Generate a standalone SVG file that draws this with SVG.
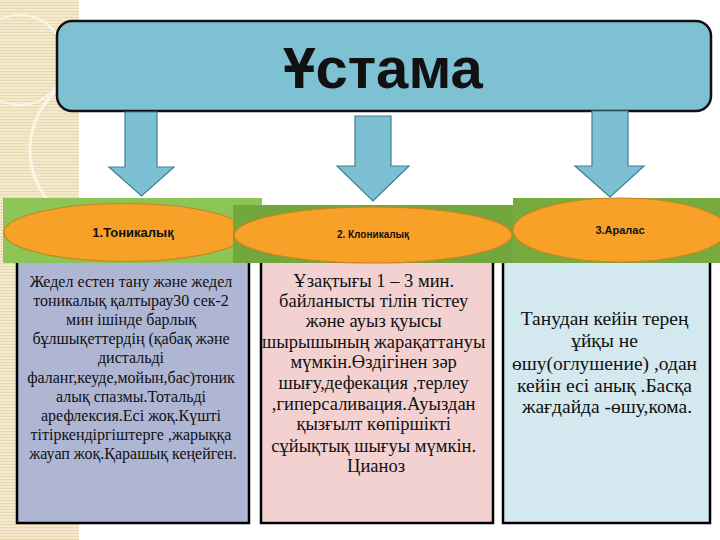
<svg xmlns="http://www.w3.org/2000/svg" width="720" height="540" viewBox="0 0 720 540">
<defs>
<pattern id="stripe" width="6" height="3" patternUnits="userSpaceOnUse">
<rect width="6" height="3" fill="#f4e9cc"/>
<rect y="2" width="6" height="1" fill="#e9d9b0"/>
</pattern>
<clipPath id="stripclip"><rect x="0" y="0" width="79" height="540"/></clipPath>
<style>
.arrow{fill:#7ec0d3;stroke:#3d8096;stroke-width:1.2}
.panel{stroke:#000;stroke-width:2.5}
.ell{fill:#f8a128;stroke:#c7861e;stroke-width:1.2}
.lbl{font-family:"Liberation Sans",Arial,sans-serif;font-weight:bold;fill:#111;text-anchor:middle}
.body{font-family:"Liberation Serif","Times New Roman",serif;fill:#111;text-anchor:middle}
</style>
</defs>
<rect width="720" height="540" fill="#ffffff"/>
<g id="decor">
<rect x="0" y="0" width="79" height="540" fill="url(#stripe)"/>
<g clip-path="url(#stripclip)" fill="none" stroke="#fbf5e6">
<circle cx="95" cy="310" r="62" stroke-width="4"/>
<circle cx="110" cy="150" r="80" stroke-width="3"/>
<circle cx="20" cy="60" r="45" stroke-width="2"/>
</g>
</g>
<g id="panels">
<g id="panel1">
<rect class="panel" x="17" y="258" width="232" height="265" fill="#aeb6d4"/>
<text class="body" font-size="16">
<tspan x="133" y="287">Жедел естен тану және жедел</tspan>
<tspan x="133" y="306">тоникалық қалтырау30 сек-2</tspan>
<tspan x="133" y="325">мин ішінде барлық</tspan>
<tspan x="133" y="344">бұлшықеттердің (қабақ және</tspan>
<tspan x="133" y="363">дистальді</tspan>
<tspan x="133" y="383">фаланг,кеуде,мойын,бас)тоник</tspan>
<tspan x="133" y="402">алық спазмы.Тотальді</tspan>
<tspan x="133" y="421">арефлексия.Есі жоқ.Күшті</tspan>
<tspan x="133" y="440">тітіркендіргіштерге ,жарыққа</tspan>
<tspan x="133" y="459">жауап жоқ.Қарашық кеңейген.</tspan>
</text>
</g>
<g id="panel2">
<rect class="panel" x="261" y="258" width="232" height="265" fill="#f3d1d1"/>
<text class="body" font-size="18.5">
<tspan x="376" y="287">Ұзақтығы 1 – 3 мин.</tspan>
<tspan x="376" y="307">байланысты тілін тістеу</tspan>
<tspan x="376" y="327">және ауыз қуысы</tspan>
<tspan x="376" y="348">шырышының жарақаттануы</tspan>
<tspan x="376" y="368">мүмкін.Өздігінен зәр</tspan>
<tspan x="376" y="389">шығу,дефекация ,терлеу</tspan>
<tspan x="376" y="410">,гиперсаливация.Ауыздан</tspan>
<tspan x="376" y="430">қызғылт көпіршікті</tspan>
<tspan x="376" y="452">сұйықтық шығуы мүмкін.</tspan>
<tspan x="376" y="472">Цианоз</tspan>
</text>
</g>
<g id="panel3">
<rect class="panel" x="503" y="258" width="207" height="265" fill="#d3e9ef"/>
<text class="body" font-size="19.5">
<tspan x="607" y="325">Танудан кейін терең</tspan>
<tspan x="607" y="347">ұйқы не</tspan>
<tspan x="607" y="370">өшу(оглушение) ,одан</tspan>
<tspan x="607" y="392">кейін есі анық .Басқа</tspan>
<tspan x="607" y="413">жағдайда -өшу,кома.</tspan>
</text>
</g>
</g>
<g id="bands">
<g id="band1">
<rect x="3" y="198" width="259" height="65" fill="#8cc455"/>
<ellipse class="ell" cx="125" cy="232.5" rx="121" ry="29"/>
<text class="lbl" x="133" y="237" font-size="13">1.Тоникалық</text>
</g>
<g id="band2">
<rect x="233" y="205" width="280" height="58" fill="#71a73c"/>
<ellipse class="ell" cx="373" cy="235" rx="139" ry="28"/>
<text class="lbl" x="373" y="238" font-size="10">2. Клоникалық</text>
</g>
<g id="band3">
<rect x="513" y="198" width="207" height="65" fill="#78ab3e"/>
<ellipse class="ell" cx="620" cy="230" rx="107" ry="32"/>
<text class="lbl" x="620" y="234" font-size="11">3.Аралас</text>
</g>
</g>
<g id="header">
<rect x="57" y="21" width="654" height="90" rx="15" ry="15" fill="#7ec1d3" stroke="#111" stroke-width="2.5"/>
<text class="lbl" x="383" y="88" font-size="58">Ұстама</text>
</g>
<g id="connectors">
<polygon class="arrow" points="125,112 157,112 157,167 174,167 141.5,196 109,167 125,167"/>
<polygon class="arrow" points="355,116 391,116 391,166 409,166 373,201 337,166 355,166"/>
<polygon class="arrow" points="592,111 628,111 628,166 644,166 610,197 575,166 592,166"/>
</g>
</svg>
